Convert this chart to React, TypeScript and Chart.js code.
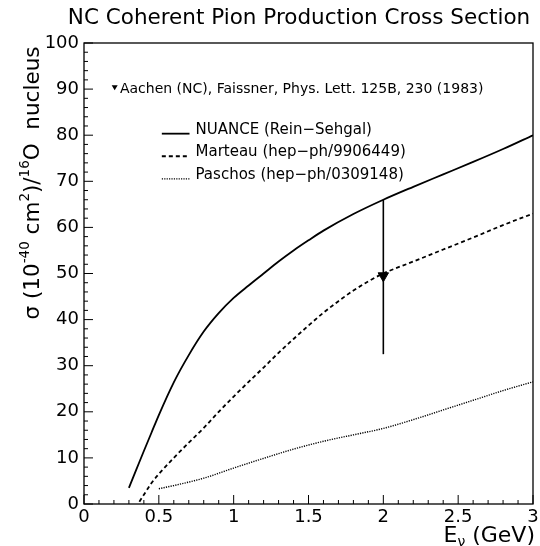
import React, { useEffect, useRef } from "react";
import { Chart, registerables } from "chart.js";
Chart.register(...registerables);

const titleText = "NC Coherent Pion Production Cross Section";

const nuanceE = [0.3, 0.35, 0.4, 0.45, 0.5, 0.6, 0.7, 0.8, 0.9, 1.0, 1.1, 1.2, 1.3, 1.4, 1.5, 1.6, 1.8, 2.0, 2.2, 2.4, 2.6, 2.8, 3.0];
const nuanceSigma = [3.5, 7.5, 11.5, 15.4, 19.3, 26.4, 32.3, 37.4, 41.4, 44.7, 47.4, 50.0, 52.6, 55.0, 57.2, 59.3, 62.9, 66.0, 68.8, 71.5, 74.2, 77.0, 80.0];

const marteauE = [0.37, 0.4, 0.45, 0.5, 0.6, 0.7, 0.8, 0.9, 1.0, 1.1, 1.2, 1.3, 1.4, 1.5, 1.6, 1.7, 1.8, 1.9, 2.0, 2.2, 2.4, 2.6, 2.8, 3.0];
const marteauSigma = [0.5, 2.0, 4.5, 6.5, 10.0, 13.3, 16.5, 20.0, 23.3, 26.5, 29.6, 32.8, 35.8, 38.7, 41.5, 44.0, 46.3, 48.3, 50.0, 52.6, 55.2, 57.8, 60.5, 63.0];

const paschosE = [0.5, 0.6, 0.8, 1.0, 1.2, 1.4, 1.6, 1.8, 2.0, 2.2, 2.4, 2.6, 2.8, 3.0];
const paschosSigma = [3.3, 4.0, 5.6, 7.8, 9.9, 11.9, 13.6, 15.0, 16.4, 18.3, 20.4, 22.5, 24.6, 26.5];

const aachenE = [2.0];
const aachenSigma = [49.5];
const aachenLow = [32.5];
const aachenHigh = [66.0];

const legendLabels = ["NUANCE (Rein\u2212Sehgal)", "Marteau (hep\u2212ph/9906449)", "Paschos (hep\u2212ph/0309148)"];
const aachenLabel = "Aachen (NC), Faissner, Phys. Lett. 125B, 230 (1983)";

const FONT = "'DejaVu Sans', sans-serif";

const pts = (xs: number[], ys: number[]) => xs.map((x, i) => ({ x, y: ys[i] }));

const annotPlugin = {
  id: "annot",
  afterDraw(chart: any) {
    const ctx = chart.ctx as CanvasRenderingContext2D;
    const ca = chart.chartArea;
    const xs = chart.scales.x;
    const ys = chart.scales.y;
    ctx.save();
    ctx.strokeStyle = "#000";
    ctx.fillStyle = "#000";
    // frame
    ctx.lineWidth = 1.3;
    ctx.setLineDash([]);
    ctx.strokeRect(ca.left, ca.top, ca.right - ca.left, ca.bottom - ca.top);
    // inward ticks
    ctx.lineWidth = 1;
    for (let i = 0; i <= 30; i++) {
      const v = i / 10;
      const px = xs.getPixelForValue(v);
      const len = i % 5 === 0 ? 9 : 4;
      ctx.beginPath();
      ctx.moveTo(px, ca.bottom);
      ctx.lineTo(px, ca.bottom - len);
      ctx.stroke();
    }
    for (let i = 0; i <= 50; i++) {
      const v = i * 2;
      const py = ys.getPixelForValue(v);
      const len = i % 5 === 0 ? 9 : 4;
      ctx.beginPath();
      ctx.moveTo(ca.left, py);
      ctx.lineTo(ca.left + len, py);
      ctx.stroke();
    }
    // title
    ctx.font = `21.5px ${FONT}`;
    ctx.textAlign = "center";
    ctx.textBaseline = "middle";
    ctx.fillText(titleText, 299, 18);

    // y axis title (rotated, with superscripts)
    const parts: { t: string; sup?: boolean }[] = [
      { t: "\u03c3 (10" },
      { t: "-40", sup: true },
      { t: " cm" },
      { t: "2", sup: true },
      { t: ")/" },
      { t: "16", sup: true },
      { t: "O  nucleus" },
    ];
    const big = `21.5px ${FONT}`;
    const small = `13.5px ${FONT}`;
    let total = 0;
    for (const p of parts) {
      ctx.font = p.sup ? small : big;
      total += ctx.measureText(p.t).width;
    }
    ctx.save();
    ctx.translate(31, 183);
    ctx.rotate(-Math.PI / 2);
    ctx.textAlign = "left";
    ctx.textBaseline = "alphabetic";
    let cx = -total / 2;
    for (const p of parts) {
      ctx.font = p.sup ? small : big;
      ctx.fillText(p.t, cx, p.sup ? -2 : 8);
      cx += ctx.measureText(p.t).width;
    }
    ctx.restore();

    // x axis title E_nu (GeV)
    ctx.textBaseline = "alphabetic";
    ctx.textAlign = "left";
    const xParts: { t: string; sub?: boolean }[] = [{ t: "E" }, { t: "\u03bd", sub: true }, { t: " (GeV)" }];
    let xt = 0;
    for (const p of xParts) {
      ctx.font = p.sub ? `14px ${FONT}` : `22px ${FONT}`;
      xt += ctx.measureText(p.t).width;
    }
    let xx = 535 - xt;
    for (const p of xParts) {
      ctx.font = p.sub ? `14px ${FONT}` : `22px ${FONT}`;
      ctx.fillText(p.t, xx, p.sub ? 546 : 542);
      xx += ctx.measureText(p.t).width;
    }

    // legend: Aachen
    ctx.font = `14px ${FONT}`;
    ctx.textBaseline = "middle";
    const ax = xs.getPixelForValue(0.205);
    const ay = ys.getPixelForValue(90.3);
    ctx.beginPath();
    ctx.moveTo(ax - 3, ay - 2.5);
    ctx.lineTo(ax + 3, ay - 2.5);
    ctx.lineTo(ax, ay + 2.5);
    ctx.closePath();
    ctx.fill();
    ctx.fillText(aachenLabel, xs.getPixelForValue(0.24), ys.getPixelForValue(90));

    // legend lines
    ctx.font = `15px ${FONT}`;
    const dashes = [[], [4, 3], [1.2, 1.2]];
    const widths = [1.8, 1.8, 1.4];
    const ly = [81.2, 76.3, 71.4];
    for (let i = 0; i < 3; i++) {
      const y = ys.getPixelForValue(ly[i]);
      ctx.lineWidth = widths[i];
      ctx.setLineDash(dashes[i]);
      ctx.beginPath();
      ctx.moveTo(xs.getPixelForValue(0.52), y + 4);
      ctx.lineTo(xs.getPixelForValue(0.705), y + 4);
      ctx.stroke();
      ctx.setLineDash([]);
      ctx.fillText(legendLabels[i], xs.getPixelForValue(0.745), y);
    }
    ctx.restore();
  },
};

export default function App() {
  const ref = useRef<HTMLCanvasElement>(null);
  useEffect(() => {
    if (!ref.current) return;
    const chart = new Chart(ref.current, {
      type: "line",
      data: {
        datasets: [
          {
            label: "NUANCE",
            data: pts(nuanceE, nuanceSigma),
            borderColor: "#000",
            borderWidth: 1.8,
            pointRadius: 0,
            cubicInterpolationMode: "monotone",
            fill: false,
          },
          {
            label: "Marteau",
            data: pts(marteauE, marteauSigma),
            borderColor: "#000",
            borderWidth: 1.8,
            borderDash: [4, 3],
            pointRadius: 0,
            cubicInterpolationMode: "monotone",
            fill: false,
          },
          {
            label: "Paschos",
            data: pts(paschosE, paschosSigma),
            borderColor: "#000",
            borderWidth: 1.4,
            borderDash: [1.2, 1.2],
            pointRadius: 0,
            cubicInterpolationMode: "monotone",
            fill: false,
          },
          {
            label: "Aachen error",
            data: [
              { x: aachenE[0], y: aachenLow[0] },
              { x: aachenE[0], y: aachenHigh[0] },
            ],
            borderColor: "#000",
            borderWidth: 1.6,
            pointRadius: 0,
            fill: false,
          },
          {
            label: "Aachen",
            data: pts(aachenE, aachenSigma),
            borderColor: "#000",
            backgroundColor: "#000",
            showLine: false,
            pointStyle: "triangle",
            rotation: 180,
            pointRadius: 6,
            borderWidth: 1,
          },
        ],
      },
      options: {
        animation: false,
        responsive: false,
        maintainAspectRatio: false,
        layout: { padding: { top: 43, right: 5, left: 0, bottom: 0 } },
        plugins: {
          legend: { display: false },
          title: { display: false },
          tooltip: { enabled: false },
        },
        scales: {
          x: {
            type: "linear",
            min: 0,
            max: 3,
            grid: { display: false, drawTicks: false },
            border: { display: false },
            ticks: {
              stepSize: 0.5,
              autoSkip: false,
              maxRotation: 0,
              padding: 3,
              color: "#000",
              font: { family: FONT, size: 18 },
              callback: (v: any) => String(Number(v)),
            },
            afterFit: (s: any) => {
              s.height = 42;
              s.paddingLeft = 0;
              s.paddingRight = 0;
            },
          },
          y: {
            type: "linear",
            min: 0,
            max: 100,
            grid: { display: false, drawTicks: false },
            border: { display: false },
            ticks: {
              stepSize: 10,
              autoSkip: false,
              padding: 5,
              color: "#000",
              font: { family: FONT, size: 18 },
            },
            afterFit: (s: any) => {
              s.width = 84;
              s.paddingTop = 0;
              s.paddingBottom = 0;
            },
          },
        },
      },
      plugins: [annotPlugin],
    });
    return () => chart.destroy();
  }, []);
  return (
    <div style={{ position: "fixed", left: 0, top: 0, width: 540, height: 546, background: "#fff" }}>
      <canvas ref={ref} width={540} height={546} />
    </div>
  );
}
